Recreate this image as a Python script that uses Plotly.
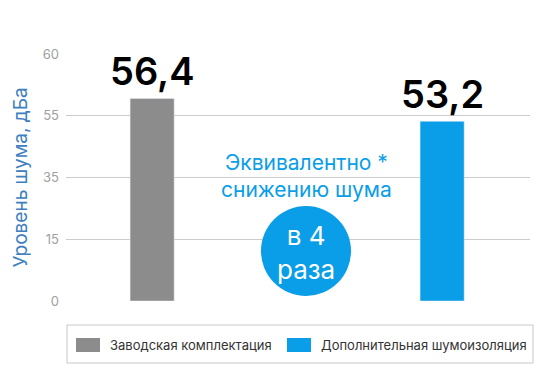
import numpy as np
import plotly.graph_objects as go

# ---- data ----
series_names = ["Заводская комплектация", "Дополнительная шумоизоляция"]
values = [56.4, 53.2]
value_labels = ["56,4", "53,2"]
tick_values = [0, 15, 35, 55, 60]
tick_labels = ["0", "15", "35", "55", "60"]
colors = ["#8c8c8c", "#0a9de8"]
y_title = "Уровень шума, дБа"
note_text = "Эквивалентно *<br>снижению шума"
badge_text = "в 4<br>раза"

# axis uses evenly spaced ticks -> piecewise scale
tick_pos = np.arange(len(tick_values))
def yscale(v):
    return float(np.interp(v, tick_values, tick_pos))

FONT = "Inter, Roboto, Liberation Sans, Arial, sans-serif"
W, H = 540, 380
ML, MR, MT, MB = 66, 10, 54, 79
PW, PH = W - ML - MR, H - MT - MB

def px_x(p):  # pixel -> paper x
    return (p - ML) / PW
def px_y(p):  # pixel -> paper y
    return (H - MB - p) / PH

fig = go.Figure()
for i, (name, v, c) in enumerate(zip(series_names, values, colors)):
    fig.add_trace(go.Bar(
        x=[i], y=[yscale(v)], name=name, marker_color=c, width=0.152,
        customdata=[v], hovertemplate="%{customdata}<extra>" + name + "</extra>",
        showlegend=False,
    ))
    fig.add_annotation(x=i, y=yscale(v), text=value_labels[i], showarrow=False,
                       yanchor="bottom", yshift=2,
                       font=dict(family=FONT, size=38, color="#000000", weight=600))

# note text and badge
cx = px_x(306)
fig.add_annotation(xref="paper", yref="paper", x=cx, y=px_y(176), text=note_text,
                   showarrow=False, xanchor="center", yanchor="middle",
                   font=dict(family=FONT, size=21, color="#0a9de8"))
fig.add_shape(type="circle", xref="paper", yref="paper",
              x0=px_x(261), x1=px_x(351), y0=px_y(296), y1=px_y(206),
              fillcolor="#0a9de8", line_width=0, layer="above")
fig.add_annotation(xref="paper", yref="paper", x=cx, y=px_y(252), text=badge_text,
                   showarrow=False, xanchor="center", yanchor="middle",
                   font=dict(family=FONT, size=26, color="#ffffff"))

# legend box (drawn manually to match the frame and wide swatches)
x0, x1, y0, y1 = px_x(67), px_x(533), px_y(363), px_y(325)
fig.add_shape(type="rect", xref="paper", yref="paper", x0=x0, x1=x1, y0=y0, y1=y1,
              line=dict(color="#c8c8c8", width=1), fillcolor="rgba(0,0,0,0)")
sw_left = [76, 287]
for i, (name, c) in enumerate(zip(series_names, colors)):
    fig.add_shape(type="rect", xref="paper", yref="paper",
                  x0=px_x(sw_left[i]), x1=px_x(sw_left[i] + 24),
                  y0=px_y(352), y1=px_y(338), fillcolor=c, line_width=0)
    fig.add_annotation(xref="paper", yref="paper", x=px_x(sw_left[i] + 32), y=px_y(345),
                       text=name, showarrow=False, xanchor="left", yanchor="middle",
                       font=dict(family=FONT, size=13, color="#333333"))

fig.update_layout(
    width=W, height=H,
    margin=dict(l=ML, r=MR, t=MT, b=MB),
    plot_bgcolor="white", paper_bgcolor="white",
    barmode="overlay", showlegend=False,
    font=dict(family=FONT),
    xaxis=dict(range=[-0.297, 1.303], showticklabels=False, showgrid=False,
               zeroline=False, showline=False, fixedrange=True),
    yaxis=dict(range=[0, 4], tickvals=list(tick_pos), ticktext=tick_labels,
               showgrid=True, gridcolor="#cccccc", gridwidth=1, zeroline=False,
               tickfont=dict(family=FONT, size=13, color="#a0a0a0"),
               ticks="", ticklabelstandoff=6,
               title=dict(text=y_title, font=dict(family=FONT, size=19, color="#3d80c0"),
                          standoff=10)),
)
fig.write_html("out.html")
